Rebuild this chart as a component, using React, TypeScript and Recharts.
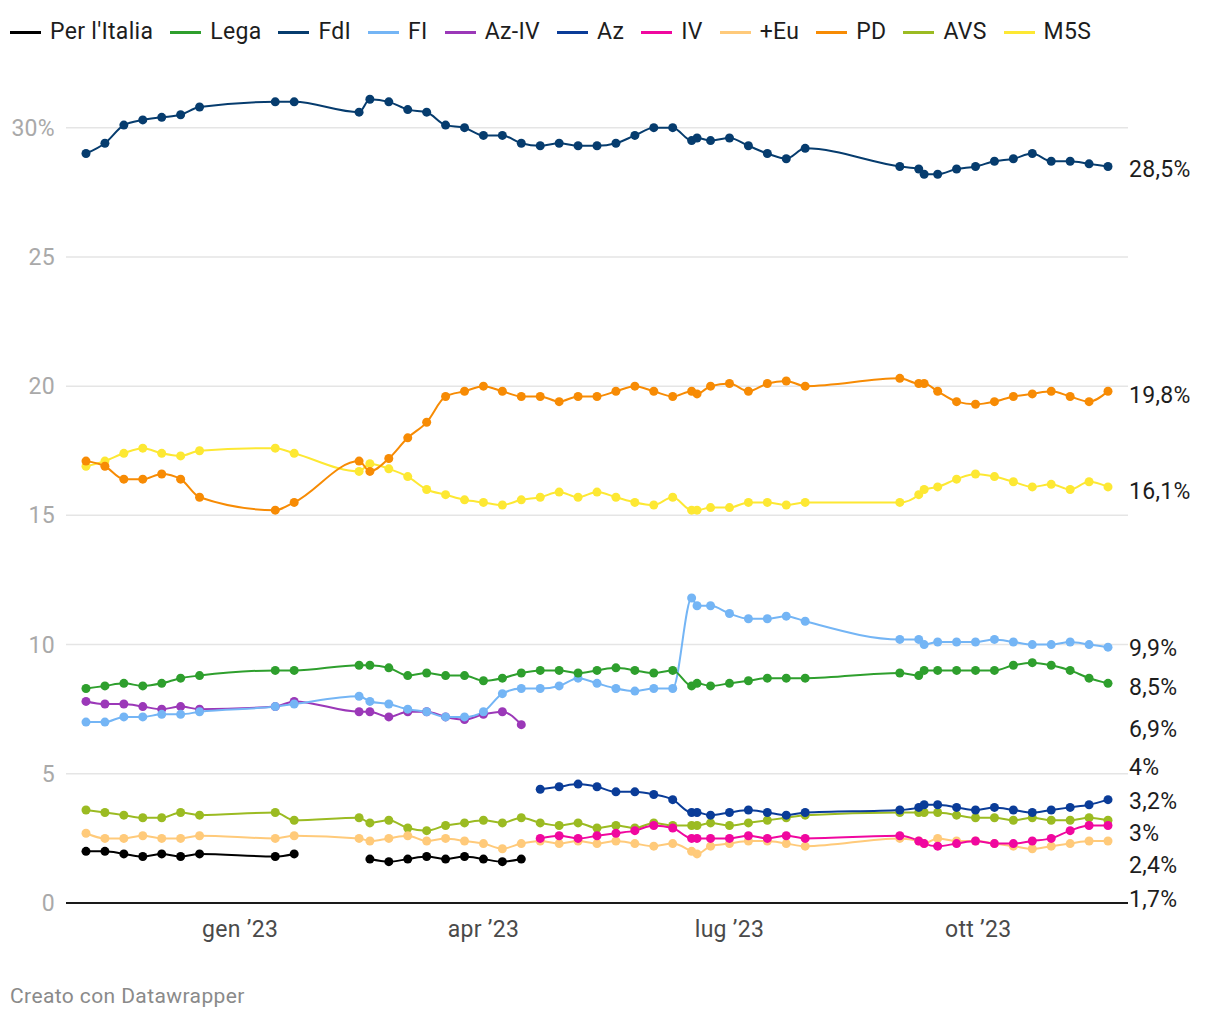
import { LineChart, Line, XAxis, YAxis, ReferenceLine } from 'recharts';

const N = null;

// poll dates (one row per poll)
const dates = [
  '2022-11-05', '2022-11-12', '2022-11-19', '2022-11-26', '2022-12-03', '2022-12-10', '2022-12-17',
  '2023-01-14', '2023-01-21',
  '2023-02-14', '2023-02-18', '2023-02-25', '2023-03-04', '2023-03-11', '2023-03-18', '2023-03-25',
  '2023-04-01', '2023-04-08', '2023-04-15',
  '2023-04-22', '2023-04-29', '2023-05-06', '2023-05-13', '2023-05-20', '2023-05-27', '2023-06-03', '2023-06-10',
  '2023-06-17', '2023-06-19', '2023-06-24', '2023-07-01', '2023-07-08', '2023-07-15', '2023-07-22', '2023-07-29',
  '2023-09-02', '2023-09-09', '2023-09-11', '2023-09-16', '2023-09-23', '2023-09-30', '2023-10-07',
  '2023-10-14', '2023-10-21', '2023-10-28', '2023-11-04', '2023-11-11', '2023-11-18',
];

const perItalia = [
  2.0, 2.0, 1.9, 1.8, 1.9, 1.8, 1.9, 1.8, 1.9,
  N, 1.7, 1.6, 1.7, 1.8, 1.7, 1.8, 1.7, 1.6, 1.7,
  N, N, N, N, N, N, N, N,
  N, N, N, N, N, N, N, N,
  N, N, N, N, N, N, N, N, N, N, N, N, N,
];
const lega = [
  8.3, 8.4, 8.5, 8.4, 8.5, 8.7, 8.8, 9.0, 9.0,
  9.2, 9.2, 9.1, 8.8, 8.9, 8.8, 8.8, 8.6, 8.7, 8.9,
  9.0, 9.0, 8.9, 9.0, 9.1, 9.0, 8.9, 9.0,
  8.4, 8.5, 8.4, 8.5, 8.6, 8.7, 8.7, 8.7,
  8.9, 8.8, 9.0, 9.0, 9.0, 9.0, 9.0, 9.2, 9.3, 9.2, 9.0, 8.7, 8.5,
];
const fdi = [
  29.0, 29.4, 30.1, 30.3, 30.4, 30.5, 30.8, 31.0, 31.0,
  30.6, 31.1, 31.0, 30.7, 30.6, 30.1, 30.0, 29.7, 29.7, 29.4,
  29.3, 29.4, 29.3, 29.3, 29.4, 29.7, 30.0, 30.0,
  29.5, 29.6, 29.5, 29.6, 29.3, 29.0, 28.8, 29.2,
  28.5, 28.4, 28.2, 28.2, 28.4, 28.5, 28.7, 28.8, 29.0, 28.7, 28.7, 28.6, 28.5,
];
const fi = [
  7.0, 7.0, 7.2, 7.2, 7.3, 7.3, 7.4, 7.6, 7.7,
  8.0, 7.8, 7.7, 7.5, 7.4, 7.2, 7.2, 7.4, 8.1, 8.3,
  8.3, 8.4, 8.7, 8.5, 8.3, 8.2, 8.3, 8.3,
  11.8, 11.5, 11.5, 11.2, 11.0, 11.0, 11.1, 10.9,
  10.2, 10.2, 10.0, 10.1, 10.1, 10.1, 10.2, 10.1, 10.0, 10.0, 10.1, 10.0, 9.9,
];
const azIv = [
  7.8, 7.7, 7.7, 7.6, 7.5, 7.6, 7.5, 7.6, 7.8,
  7.4, 7.4, 7.2, 7.4, 7.4, 7.2, 7.1, 7.3, 7.4, 6.9,
  N, N, N, N, N, N, N, N,
  N, N, N, N, N, N, N, N,
  N, N, N, N, N, N, N, N, N, N, N, N, N,
];
const az = [
  N, N, N, N, N, N, N, N, N,
  N, N, N, N, N, N, N, N, N, N,
  4.4, 4.5, 4.6, 4.5, 4.3, 4.3, 4.2, 4.0,
  3.5, 3.5, 3.4, 3.5, 3.6, 3.5, 3.4, 3.5,
  3.6, 3.7, 3.8, 3.8, 3.7, 3.6, 3.7, 3.6, 3.5, 3.6, 3.7, 3.8, 4.0,
];
const iv = [
  N, N, N, N, N, N, N, N, N,
  N, N, N, N, N, N, N, N, N, N,
  2.5, 2.6, 2.5, 2.6, 2.7, 2.8, 3.0, 2.9,
  2.5, 2.5, 2.5, 2.5, 2.6, 2.5, 2.6, 2.5,
  2.6, 2.4, 2.3, 2.2, 2.3, 2.4, 2.3, 2.3, 2.4, 2.5, 2.8, 3.0, 3.0,
];
const piuEu = [
  2.7, 2.5, 2.5, 2.6, 2.5, 2.5, 2.6, 2.5, 2.6,
  2.5, 2.4, 2.5, 2.6, 2.4, 2.5, 2.4, 2.3, 2.1, 2.3,
  2.4, 2.3, 2.4, 2.3, 2.4, 2.3, 2.2, 2.3,
  2.0, 1.9, 2.2, 2.3, 2.4, 2.4, 2.3, 2.2,
  2.5, 2.4, 2.3, 2.5, 2.4, 2.4, 2.3, 2.2, 2.1, 2.2, 2.3, 2.4, 2.4,
];
const pd = [
  17.1, 16.9, 16.4, 16.4, 16.6, 16.4, 15.7, 15.2, 15.5,
  17.1, 16.7, 17.2, 18.0, 18.6, 19.6, 19.8, 20.0, 19.8, 19.6,
  19.6, 19.4, 19.6, 19.6, 19.8, 20.0, 19.8, 19.6,
  19.8, 19.7, 20.0, 20.1, 19.8, 20.1, 20.2, 20.0,
  20.3, 20.1, 20.1, 19.8, 19.4, 19.3, 19.4, 19.6, 19.7, 19.8, 19.6, 19.4, 19.8,
];
const avs = [
  3.6, 3.5, 3.4, 3.3, 3.3, 3.5, 3.4, 3.5, 3.2,
  3.3, 3.1, 3.2, 2.9, 2.8, 3.0, 3.1, 3.2, 3.1, 3.3,
  3.1, 3.0, 3.1, 2.9, 3.0, 2.9, 3.1, 3.0,
  3.0, 3.0, 3.1, 3.0, 3.1, 3.2, 3.3, 3.4,
  3.5, 3.5, 3.5, 3.5, 3.4, 3.3, 3.3, 3.2, 3.3, 3.2, 3.2, 3.3, 3.2,
];
const m5s = [
  16.9, 17.1, 17.4, 17.6, 17.4, 17.3, 17.5, 17.6, 17.4,
  16.7, 17.0, 16.8, 16.5, 16.0, 15.8, 15.6, 15.5, 15.4, 15.6,
  15.7, 15.9, 15.7, 15.9, 15.7, 15.5, 15.4, 15.7,
  15.2, 15.2, 15.3, 15.3, 15.5, 15.5, 15.4, 15.5,
  15.5, 15.8, 16.0, 16.1, 16.4, 16.6, 16.5, 16.3, 16.1, 16.2, 16.0, 16.3, 16.1,
];

const yTicks = [0, 5, 10, 15, 20, 25, 30];
const xTicks = ['2023-01-01', '2023-04-01', '2023-07-01', '2023-10-01'];
const monthNames = ['gen', 'feb', 'mar', 'apr', 'mag', 'giu', 'lug', 'ago', 'set', 'ott', 'nov', 'dic'];

// legend order
const series = [
  { key: 'perItalia', name: "Per l'Italia", color: '#000000', values: perItalia, label: '1,7%' },
  { key: 'lega', name: 'Lega', color: '#2e9f2d', values: lega, label: '8,5%' },
  { key: 'fdi', name: 'FdI', color: '#063c6e', values: fdi, label: '28,5%' },
  { key: 'fi', name: 'FI', color: '#74b5f5', values: fi, label: '9,9%' },
  { key: 'azIv', name: 'Az-IV', color: '#9b38b8', values: azIv, label: '6,9%' },
  { key: 'az', name: 'Az', color: '#0a3c98', values: az, label: '4%' },
  { key: 'iv', name: 'IV', color: '#f0079f', values: iv, label: '3%' },
  { key: 'piuEu', name: '+Eu', color: '#ffca7a', values: piuEu, label: '2,4%' },
  { key: 'pd', name: 'PD', color: '#f78b04', values: pd, label: '19,8%' },
  { key: 'avs', name: 'AVS', color: '#9bbb22', values: avs, label: '3,2%' },
  { key: 'm5s', name: 'M5S', color: '#fde833', values: m5s, label: '16,1%' },
];

// end labels are spread apart (pixel y of each label, top to bottom)
const labelY: Record<string, number> = {
  fdi: 170, pd: 396, m5s: 492, fi: 649, lega: 688, azIv: 730,
  az: 768, avs: 802, iv: 834, piuEu: 866, perItalia: 900,
};

const toTime = (d: string) => {
  const [y, m, day] = d.split('-').map(Number);
  return Date.UTC(y, m - 1, day);
};

const rows = dates.map((d, i) => {
  const row: Record<string, number | null> = { t: toTime(d) };
  series.forEach((s) => {
    row[s.key] = s.values[i];
  });
  return row;
});

const FONT = 'Roboto, "Noto Sans", sans-serif';

const XTick = ({ x, y, payload }: any) => {
  const d = new Date(payload.value);
  const txt = `${monthNames[d.getUTCMonth()]} ’${String(d.getUTCFullYear()).slice(2)}`;
  return (
    <text x={x} y={y + 26} textAnchor="middle" fill="#4a4a4a" fontSize={23} fontFamily={FONT} style={{ letterSpacing: '0.3px' }}>
      {txt}
    </text>
  );
};

const YTick = ({ y, payload }: any) => (
  <text x={55} y={y} dy="0.35em" textAnchor="end" fill="#a9a9a9" fontSize={23} fontFamily={FONT} style={{ letterSpacing: '0.3px' }}>
    {payload.value === 30 ? '30%' : payload.value}
  </text>
);

export default function App() {
  const t0 = toTime(dates[0]);
  const t1 = toTime(dates[dates.length - 1]);
  return (
    <div style={{ position: 'absolute', left: 0, top: 0, width: 1220, height: 1020, background: '#fff', fontFamily: FONT }}>
      <div style={{ position: 'absolute', left: 10, top: 17, display: 'flex', alignItems: 'center', letterSpacing: '0.3px' }}>
        {series.map((s) => (
          <div key={s.key} style={{ display: 'flex', alignItems: 'center', marginRight: 17 }}>
            <span style={{ display: 'inline-block', width: 31, height: 3, background: s.color, marginRight: 9 }} />
            <span style={{ fontSize: 23, color: '#1d1d1d', lineHeight: '30px' }}>{s.name}</span>
          </div>
        ))}
      </div>

      <div style={{ position: 'absolute', left: 0, top: 0 }}>
        <LineChart width={1220} height={963} data={rows} margin={{ top: 76, right: 92, bottom: 0, left: 0 }}>
          <XAxis
            dataKey="t"
            type="number"
            domain={[t0, t1]}
            ticks={xTicks.map(toTime)}
            padding={{ left: 20, right: 20 }}
            height={60}
            tickLine={false}
            axisLine={{ stroke: '#1a1a1a', strokeWidth: 2 }}
            tick={<XTick />}
          />
          <YAxis
            type="number"
            domain={[0, 32]}
            ticks={yTicks}
            width={66}
            axisLine={false}
            tickLine={false}
            tick={<YTick />}
          />
          {yTicks.filter((v) => v > 0).map((v) => (
            <ReferenceLine key={v} y={v} stroke="#e5e5e5" strokeWidth={1.5} />
          ))}
          {[...series].reverse().map((s) => (
            <Line
              key={s.key}
              type="monotone"
              dataKey={s.key}
              name={s.name}
              stroke={s.color}
              strokeWidth={2}
              dot={{ r: 4.5, fill: s.color, stroke: s.color, strokeWidth: 0 }}
              activeDot={false}
              isAnimationActive={false}
            />
          ))}
        </LineChart>
      </div>

      {series.map((s) => (
        <div
          key={s.key}
          style={{ position: 'absolute', left: 1129, top: labelY[s.key] - 14, fontSize: 23, lineHeight: '28px', color: '#1d1d1d', letterSpacing: '0.3px' }}
        >
          {s.label}
        </div>
      ))}

      <div style={{ position: 'absolute', left: 10, top: 984, fontSize: 21, color: '#8a8a8a', letterSpacing: '0.4px' }}>
        Creato con Datawrapper
      </div>
    </div>
  );
}
